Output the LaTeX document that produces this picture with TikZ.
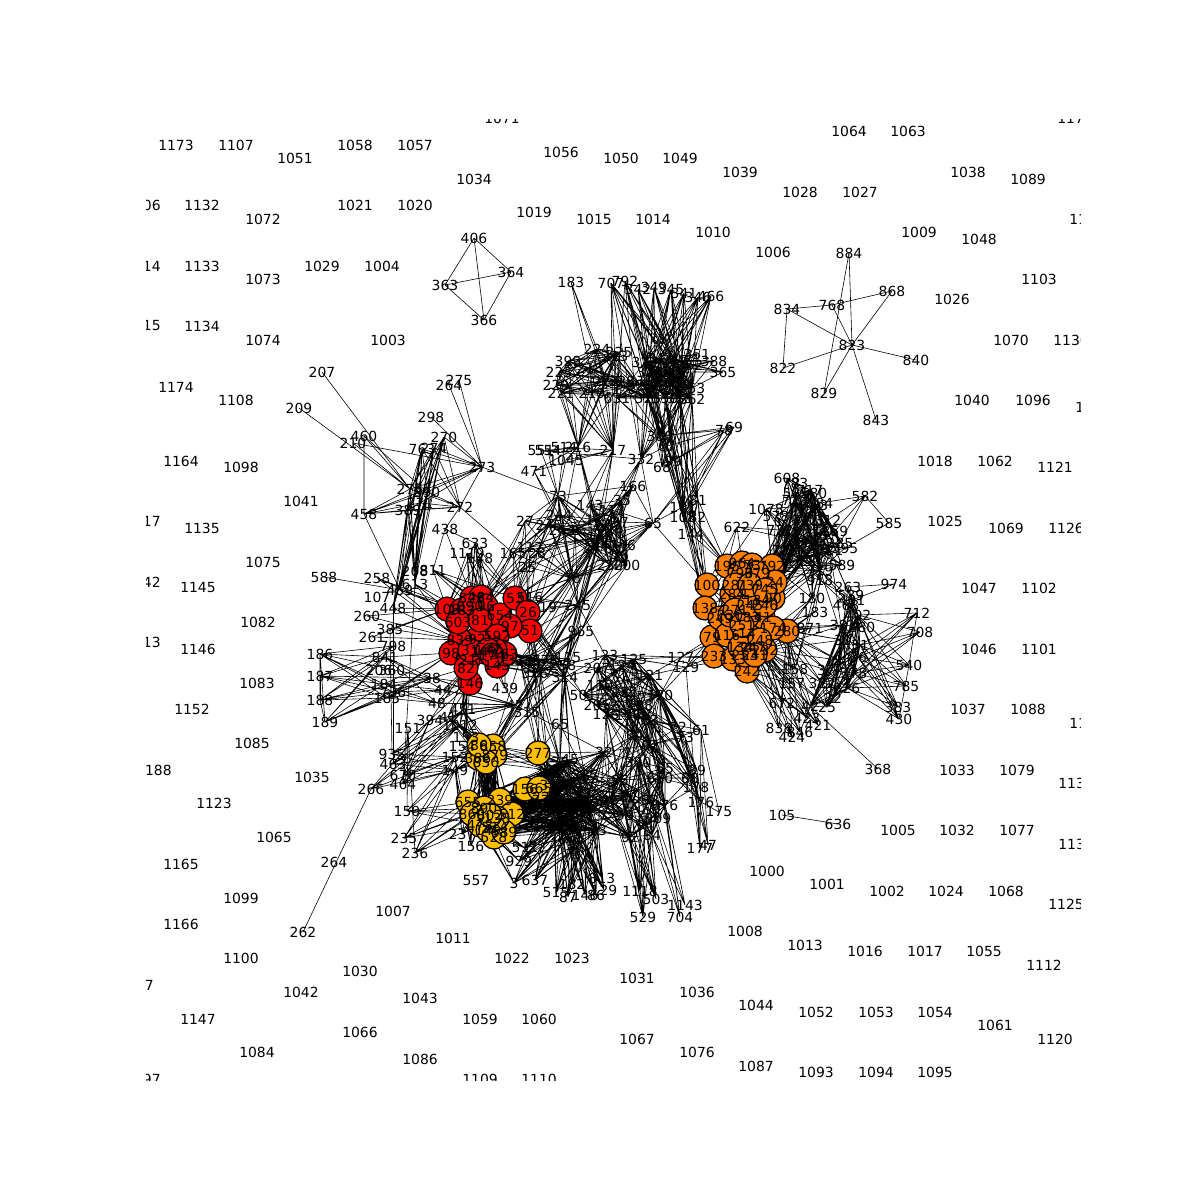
\documentclass[tikz,border=0pt]{standalone}
\usepackage{fontspec}
\setmainfont{DejaVu Sans}
\pgfdeclarelayer{edges}\pgfdeclarelayer{circles}
\pgfsetlayers{edges,circles,main}
\definecolor{cred}{RGB}{255,0,0}
\definecolor{corange}{RGB}{255,128,0}
\definecolor{cyellow}{RGB}{255,191,0}
\tikzset{
 lab/.style={inner sep=0pt,font=\fontsize{9.9pt}{10pt}\selectfont,text=black},
 ed/.style={line width=0.42pt,draw=black},
 disc/.style={draw=black,line width=0.9pt}
}
\def\E#1#2{\edef\tmpa{#1}\edef\tmpb{#2}\draw[ed] \foreach\a in \tmpa {\foreach\b in \tmpb {(n\a.center)--(n\b.center)}};}
\def\GR{r1,r2,r3,r4,r5,r6,r7,r8,r9,r10,r11,r12,r13,r14,r15,r16,r17,r18,r19,r20,r21,r22,r23,r24,r25,r26,r27}
\def\GO{o1,o2,o3,o4,o5,o6,o7,o8,o9,o10,o11,o12,o13,o14,o15,o16,o17,o18,o19,o20,o21,o22,o23,o24,o25,o26,o27,o28,o29,o30,o31,o32,o33,o34,o35,o36,o37,o38}
\def\GYa{y1,y2,y3,y4,y5}
\def\GYb{y9,y10,y11,y12,y13,y14,y15,y16,y17,y18,y20,y21}
\def\GU{u1,u2,u3,u4,u5,u6,u7,u8,u9,u10,u11,u12,u13,u14,u15}
\def\GUb{u1,u3,u5,u7,u9,u11,u12,u14}
\def\GT{707,792,342,349,345,341,346,466}
\def\GL{224,225,213,223,399,218,229,221,219,227,228}
\def\GC{c1,c2,c3,c4,c5,c6,c7,c8,c9,c10,c11,c12,c13,c14}
\def\GD{d1,d2,d3,d4,d5,d6}
\def\GRT{t1,t2,t3,t4,144}
\def\GM{m1,m2,m3,m4,m5,m6,m7,m8,m9,m10,m11,m12,m13,m14,m15,m16}
\def\GH{h1,h2,h3,h4,h5,h6,h7,976,909,h8,h9,h10,h11}
\def\GB{b1,b2,b3,b4,b5,b6,b7,b8,b9,b10,b11,b12,b13,b14}
\def\GS{s1,s2,s3,s4,s5,s6,s7,s8}
\def\GX{x1,x2,x3,x4,x5,x6,x7,x8,x9,x10,x11,x12}
\def\GZ{z1,z2,z3,z4,z5,z6,z7,z8,z9,z10,z11,z12,z13,z14}
\begin{document}
\begin{tikzpicture}[x=0.025cm,y=-0.025cm]
\useasboundingbox (0,0) rectangle (1200,1200);
\begin{scope}
\clip (146,120) rectangle (1080,1080);
% plain nodes: the label is the name
\foreach \n/\x/\y in {
1173/176/145,1107/236/145,1051/295/158,1058/355/145,1057/415/145,1071/502/118,1056/561/152,1050/621/158,1049/680/158,1039/740/172,1064/849/131,1063/908/131,1028/800/192,1027/860/192,1038/968/172,1089/1028/179,1171/1075/118,1106/143/205,1132/202/205,1072/263/219,1021/355/205,1020/415/205,1034/474/179,1019/534/212,1015/594/219,1014/653/219,1010/713/232,1006/773/252,1009/919/232,1048/979/239,1127/1087/219,1114/143/266,1133/202/266,1073/263/279,1029/322/266,1004/382/266,1103/1039/279,1026/952/299,1115/143/326,1134/202/326,1074/263/340,1003/388/340,1070/1011/340,1136/1071/340,1174/176/387,1108/236/400,1040/972/400,1096/1033/400,1130/1093/407,1164/181/461,1098/241/467,1018/935/461,1062/995/461,1121/1055/467,1041/301/501,1135/202/528,1025/945/521,1069/1006/528,1126/1066/528,1117/143/521,1075/263/562,1142/143/582,1145/198/588,1047/979/588,1102/1039/588,1082/258/622,1113/143/642,1146/198/649,1046/979/649,1101/1039/649,1083/257/683,1152/192/709,1037/968/709,1088/1028/709,1131/1087/723,1085/252/743,1188/154/770,1035/312/777,1033/957/770,1079/1017/770,1123/214/803,1137/1076/783,1065/274/837,1005/898/830,1032/957/830,1077/1017/830,1138/1076/844,1165/181/864,1000/767/871,1001/827/884,1002/887/891,1024/946/891,1068/1006/891,1099/241/898,1125/1066/904,1166/181/924,1007/393/911,1011/453/938,1008/745/931,1013/805/945,1016/865/951,1017/925/951,1055/984/951,1112/1044/965,1100/241/958,1030/360/971,1022/512/958,1023/572/958,1031/637/978,1036/697/992,1167/136/985,1042/301/992,1043/420/998,1044/756/1005,1052/816/1012,1053/876/1012,1054/935/1012,1061/995/1025,1120/1055/1039,1147/198/1019,1066/360/1032,1059/480/1019,1060/539/1019,1067/637/1039,1076/697/1052,1084/257/1052,1086/420/1059,1087/756/1066,1093/816/1072,1094/876/1072,1095/935/1072,1097/143/1079,1109/480/1079,1110/539/1079,
406/474/238,364/511/272,363/445/285,366/484/320,884/849/253,868/892/291,834/787/309,768/832/305,823/852/345,822/783/368,840/916/360,829/824/393,843/876/420,105/782/815,636/838/824,368/878/769,
207/322/372,209/299/408,210/353/443,460/364/436,298/431/417,270/444/437,763/422/449,274/434/448,264/449/385,275/459/380,273/482/467,276/410/489,390/427/492,271/420/503,389/408/510,272/460/507,458/364/514,438/445/529,633/475/543,1119/467/553,148/480/558,208/415/571,811/433/570,258/377/578,613/415/584,459/400/590,107/377/597,448/393/608,260/367/616,385/390/629,261/372/637,798/393/646,841/385/657,206/379/670,360/392/670,184/384/684,186/320/654,187/320/676,188/320/700,189/325/722,185/387/698,736/393/692,588/324/577,
38/432/678,44/443/690,48/437/703,394/430/720,41/448/717,451/463/710,1012/460/725,151/408/729,439/505/688,42/515/705,315/527/712,935/392/754,463/393/764,670/403/775,464/403/784,266/371/789,150/407/811,235/404/838,236/415/853,237/462/834,156/471/846,262/303/932,153/466/737,154/462/747,152/455/757,149/455/770,557/476/881,
224/597/349,225/619/352,213/615/356,223/559/372,399/568/361,218/590/368,229/556/385,221/561/393,219/592/393,227/606/381,228/622/381,631/617/398,351/697/354,388/714/361,365/723/372,707/611/283,792/625/281,183/571/282,342/638/289,349/654/287,345/671/289,341/684/293,346/698/297,466/711/296,216/578/447,217/613/450,332/641/459,551/541/451,554/548/451,514/564/448,1045/566/460,471/534/471,380/660/436,67/667/446,78/724/430,69/734/427,99/673/461,68/662/467,166/633/486,27/525/521,112/530/547,165/513/553,28/537/553,25/527/567,516/530/597,19/548/607,965/581/631,144/691/534,
127/681/657,129/686/667,72/678/727,73/685/737,61/701/730,89/697/770,178/696/787,176/701/802,175/719/812,976/665/805,909/658/818,177/700/848,47/708/845,637/535/880,3/514/883,929/519/861,511/525/848,515/556/893,87/568/897,182/572/884,146/585/895,813/602/878,86/596/895,1118/640/891,503/656/899,1143/685/905,704/680/917,529/643/917,65/560/724,
622/737/527,1078/766/509,578/776/516,608/787/478,783/795/483,581/796/493,580/814/493,584/820/503,312/828/520,582/865/496,585/889/523,359/835/531,285/840/543,595/845/548,589/842/565,918/820/580,263/848/587,974/894/584,539/851/595,468/846/605,712/917/613,708/920/632,180/812/598,871/810/628,680/862/627,540/909/665,158/795/669,157/792/684,785/906/686,383/898/707,430/899/719,672/782/703,423/807/718,421/818/725,838/779/728,424/792/737,846/800/732}
 {\node[lab] (n\n) at (\x,\y) {\n};}
% named nodes: name/x/y/label
\foreach \n/\x/\y/\l in {
k264/334/862/264,p129/604/890/129,
r1/447/609/108,r2/472/598/528,r3/481/597/484,r4/486/606/96,r5/462/610/183,r6/470/606/890,r7/500/615/654,r8/515/598/53,r9/528/612/26,r10/530/631/51,r11/510/626/97,r12/497/636/592,r13/477/639/92,r14/460/640/839,r15/451/653/98,r16/458/622/603,r17/480/620/81,r18/470/683/146,r19/497/666/145,r20/484/652/143,r21/468/660/21,r22/466/668/82,r23/505/654/163,r24/495/650/45,r25/470/650/31,r26/488/650/147,r27/492/655/174,
o1/707/585/100,o2/705/608/138,o3/712/637/79,o4/714/656/233,o5/733/659/133,o6/747/671/242,o7/787/631/280,o8/765/650/232,o9/727/566/195,o10/742/563/964,o11/752/565/73,o12/772/566/792,o13/732/594/284,o14/745/594/1,o15/720/618/249,o16/727/635/116,o17/747/633/14,o18/763/617/41,o19/773/598/90,o20/775/582/24,o21/773/628/174,o22/753/647/247,o23/740/647/134,o24/747/617/183,o25/730/615/730,o26/757/600/134,o27/757/573/379,o28/740/573/796,o29/735/610/271,o30/760/640/248,o31/750/605/245,o32/742/625/251,o33/765/605/246,o34/745/655/253,o35/755/655/241,o36/735/585/281,o37/750/585/739,o38/765/590/745,
y1/493/746/858,y2/495/755/879,y3/478/758/386,y4/486/762/856,y5/479/745/86,y6/538/753/277,y7/525/789/156,y8/539/788/665,y9/468/802/655,y10/500/800/239,y11/484/808/890,y12/472/814/860,y13/512/814/512,y14/480/825/478,y15/495/828/514,y16/488/830/149,y17/494/837/528,y18/504/832/689,y19/541/797/22,y20/497/818/138,y21/490/815/802,
c1/600/537/146,c2/612/510/113,c3/598/520/135,c4/620/522/37,c5/610/530/224,c6/592/548/24,c7/620/555/76,c8/627/545/46,c9/610/565/230,c10/627/565/200,c11/575/530/2,c12/605/545/247,c13/622/500/35,c14/590/505/143,
d1/562/530/243,d2/558/496/73,d3/559/515/244,d4/549/525/245,d5/572/578/76,d6/578/605/245,
t1/683/507/101,t2/698/500/81,t3/683/517/108,t4/693/517/182,f5/653/523/65,
u1/645/362/322,u2/660/358/343,u3/675/360/347,u4/690/365/352,u5/650/372/324,u6/668/372/331,u7/682/378/344,u8/640/385/328,u9/655/385/339,u10/672/385/336,u11/692/388/353,u12/648/398/325,u13/665/398/330,u14/680/398/335,u15/692/399/362,
m1/605/655/123,m2/622/665/124,m3/634/659/125,m4/597/668/207,m5/600/685/110,m6/583/695/501,m7/597/705/201,m8/606/714/126,m9/628/715/136,m10/650/720/63,m11/650/675/121,m12/660/695/120,m13/640/705/128,m14/625/692/122,m15/635/735/64,m16/650/745/62,
h1/620/780/95,h2/638/762/300,h3/665/768/65,h4/660/778/650,h5/610/800/96,h6/630/795/97,h7/650/800/98,h8/625/815/99,h9/645/825/94,h10/630/837/92,h11/652/835/84,g2/604/752/32,g8/690/778/68,
b1/548/770/331,b2/560/762/35,b3/570/760/45,b4/553/785/333,b5/570/785/334,b6/585/775/335,b7/555/805/337,b8/570/810/338,b9/586/800/8,b10/590/808/54,b11/598/830/13,b12/560/825/340,b13/575/825/339,b14/545/800/330,b15/573/851/8,
s1/563/665/258,s2/568/658/115,s3/565/677/314,s4/535/673/376,s5/545/660/378,s6/528/660/316,s7/540/672/317,s8/520/660/318,
x1/795/540/711,x2/805/520/712,x3/815/505/713,x4/800/560/714,x5/815/545/715,x6/825/530/716,x7/810/490/717,x8/785/550/718,x9/820/570/719,x10/795/500/720,x11/830/550/721,x12/780/530/722,
e183/815/612/183,
z1/852/600/401,z2/843/625/381,z3/858/615/402,z4/843/640/31,z5/860/645/31,z6/838/660/3,z7/858/657/36,z8/826/670/37,z9/854/673/378,z10/822/683/322,z11/847/688/326,z12/810/706/42,z13/827/707/25,z14/833/698/22}
 {\node[lab] (n\n) at (\x,\y) {\l};}
\end{scope}
\begin{pgfonlayer}{edges}
\fill[white] (0,0) rectangle (1200,1200);
\clip (146,120) rectangle (1080,1080);
% small groups
\E{406}{363,364,366}\E{363}{364,366}\E{364}{366}
\E{823}{884,868,834,768,822,840,829,843}\E{834}{822,768}\E{768}{868}\E{884}{829}
\E{105}{636}\E{368}{z12}\E{262}{266}
% upper left
\E{207,209,210,460}{276}\E{460}{390}\E{458}{460,276,390,271,389,272,273,459}
\E{273}{270,763,274,298,276,390,271,389,272,264,275,d2}
\E{270,763,274}{276,390,271,389,272,448,459,613,208}
\E{276,390,271,389}{272,448,459,613,208}
\E{438}{272,811,r2,633}\E{272}{165}\E{588}{459}\E{210}{273}
\E{811,148,1119,633}{r1,r2,r3,r4,r6,r7,r8}
\E{165,25,27,112,28}{r3,r4,r8,r9,d5,c1,c11}
\E{258,459,613}{r1,r5,r14}\E{260,261,385,448}{r1,r14}
\E{186,187,188,189}{38,184,736,185,841,798}
\E{186}{187,188,189}\E{187}{188}\E{188}{189}
\E{184,736,185,841}{38,44,48,r15}
\E{38,44,48,41,394,451}{r18,r22,42}
\E{r18,r21,r22}{451,1012,153}
\E{439}{r19,r20,42,r23}
\E{42}{38,44,48,394,451,1012,y1,y2,y3,y4,s4,s7,s1,s3,g2}
\E{315}{r10,s7,s4,s3,y6}
\E{448}{463}\E{385}{935}\E{613}{464}\E{151}{150,236,464}
\E{935,463,670,464,266}{394,1012,451,152,149}
\E{150,235,236,237,156}{y9,y11,y12,y14,152,149}
\E{153,154,152,149,451,1012,41}{y1,y2,y3,y4,y5}
\E{\GYa}{\GYb}\E{\GYb}{\GYb}
\E{\GYb}{\GB}\E{y6,y7,y8,y19}{\GB}\E{y1,y2,y4}{b1,b2,y6,s3,s7}
\E{\GB}{\GB}\E{\GB}{g2,h1,h5,h6,h8,h10}
\E{b7,b8,b9,b10,b11,b12,b13,b4}{3,637,929,511,515,87,182,146,813,p129,86,b15}
\E{y9,y12,y14,y17}{3,929,511}\E{637}{b15}\E{3}{b15}
% centre
\E{\GL}{\GL}\E{\GL}{216,217,u8,u12}\E{216,217}{c1,c3,c14,d1,514,1045,471}
\E{183}{224,227,218}\E{707,792}{217,631}
\E{\GT}{\GUb}\E{\GU}{\GU}\E{\GUb}{380,67,332,631}\E{351,388,365}{u1,u3,u4,u6,u11}
\E{u12,u13,u14,u15}{t1,t2,t3,t4,99,68}\E{707,792}{380,332}
\E{380,67}{78,69,99,68,332,t1,t3}\E{78,69}{f5,t1,t3,68}\E{631}{380,67}\E{228}{380}
\E{332}{c2,c3,c4,c13,551,f5}\E{551,554,514,1045}{216,d2}\E{471}{d1,d3}
\E{166}{f5,c2,c3,c4,c5,c13,d2,c1}\E{f5}{c1,c2,c4,c5,c7,c8,c12,t1,d5,d6,o1}
\E{\GRT}{o1,o2,o9,u13,u14}\E{\GRT}{t1,t2}
\E{\GC}{\GC}\E{c1,c3,c5,c6,c9,c11}{\GD}\E{\GD}{d1,d2,d3,d4}\E{d2,d3,d4}{27,28,165,112}
\E{c7,c9,c10}{d5,d6,965}\E{d6}{965,19,516,r9,r10,r8,m1}\E{d5}{r8,r9,r10}
\E{r8,r9,r10}{c1,c6,d1,d5,s1,s3,s4,s7}
\E{r19,r23,r24}{s4,s5,s6,s7,s1}
\E{\GS}{\GS}\E{\GS}{d6,965,c1}\E{s1,s3}{65,b3,b2,b6,m1,m4,m6}\E{s4,s7,s8}{y6,b1,b2,y1}\E{65}{y6,b2,b6}
% mid
\E{\GM}{\GM}\E{m3,m11,m12,m10,m16}{72,73,61}\E{m11,m12,m13,m10,m16}{89,g8,178,h3,h4,176}
\E{72,73}{89,g8,178,m10,m13}
\E{m1,m3,m11,m12}{127,129}\E{127,129}{o3,o4,o16,o5}\E{129}{177}\E{61}{47,177,175,m12}
\E{m8,m9,m10,m13,m15,m16}{h1,h3,h5,h7,h8,976}
\E{g2}{m8,m9,m15,m16,h1,h2,h5,h6,b6,b3,b5,b9,y6}
\E{\GH}{\GH}\E{h1,h2,h5,h6,h8,h9,h10,h11}{1118,503,529}\E{h7,h4,h11,976}{704,1143}
\E{g8,89,178}{177,47,h4,976}\E{176}{175,h3}\E{m16,m15}{b6,b9}
% orange and right
\E{\GO}{o9,o13,o17,o24}
\E{o12,o19,o20,o18,o27}{\GX}\E{\GX}{\GX}
\E{608,783,581,580,584,312,359,285,595,589,918,578,1078,180}{x1,x3,x4,x5,x7,x9,o12}
\E{622}{o1,o9,o10,x1,x12}\E{1078}{o9,o12}
\E{582}{312,359,285,585,584}\E{585}{595}\E{974}{263,z1}\E{918}{e183,z1,z3}\E{x9,x11}{z1,z3,z4,158}
\E{\GZ}{\GZ}\E{z3,z5,z7,z9,z11}{712,708,540,785,383,430}
\E{540}{430,712}\E{o7,o8,o21}{z2,z4,z6,z8,z10,871,e183,180}
\E{o6,o8,o22,o7}{158,157,672,838,423,424,421,846}\E{z12}{423,846,421}\E{o22,o8,o21}{z12,z13}
\E{539,468,263,680}{z1,z3,z2}
\end{pgfonlayer}
\begin{pgfonlayer}{circles}
\clip (146,120) rectangle (1080,1080);
\foreach \n in \GR {\filldraw[disc,fill=cred] (n\n.center) circle (0.3cm);}
\foreach \n in \GO {\filldraw[disc,fill=corange] (n\n.center) circle (0.3cm);}
\foreach \n in {y1,y2,y3,y4,y5,y6,y7,y8,y9,y10,y11,y12,y13,y14,y15,y16,y17,y18,y20,y21} {\filldraw[disc,fill=cyellow] (n\n.center) circle (0.3cm);}
\end{pgfonlayer}
\end{tikzpicture}
\end{document}
